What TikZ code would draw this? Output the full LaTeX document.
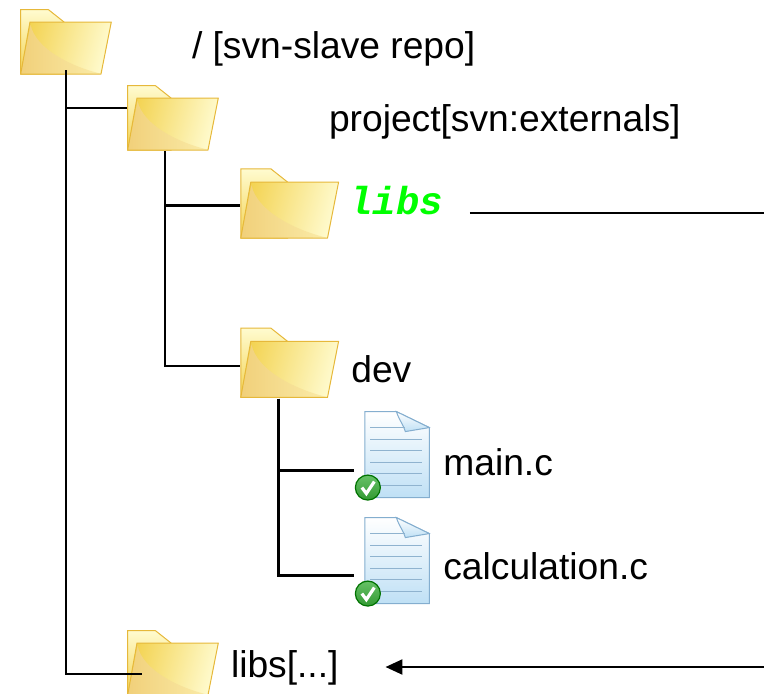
\documentclass[tikz,border=0pt]{standalone}
\usepackage{fontspec}
\setmainfont{Liberation Sans}
\setmonofont{Liberation Mono}
\usetikzlibrary{positioning}
\usetikzlibrary{arrows.meta}

\definecolor{folderedge}{HTML}{E6B83A}
\definecolor{foldergold}{HTML}{F3D352}
\definecolor{folderyellow}{HTML}{FBF084}
\definecolor{foldertop}{HTML}{FFFBCF}
\definecolor{foldertan}{HTML}{F1D07A}
\definecolor{folderpale}{HTML}{FAEBA8}
\definecolor{filedge}{HTML}{84AECF}
\definecolor{fileline}{HTML}{8FB3CF}
\definecolor{filesky}{HTML}{BFE0F5}
\definecolor{libgreen}{HTML}{00FF00}

\tikzset{
  folder/.style={inner sep=0pt, outer sep=0pt, minimum width=#1*92pt, minimum height=#1*66pt,
    path picture={
      \begin{scope}[x=#1pt, y=-#1pt]
        \pgftransformshift{\pgfpoint{-46pt*#1}{33pt*#1}}
        \shade[top color=foldertop, bottom color=foldergold, draw=folderedge, line width=1pt]
          (0.7,65) -- (0.7,0.7) -- (28.5,0.7) -- (44,13) -- (44,65) -- cycle;
        \shade[left color=foldergold, middle color=folderyellow, right color=foldertop, shading angle=75]
          (10,13) -- (91.3,13) -- (81,65) -- (0.7,65) -- cycle;
        \shade[left color=foldertan, right color=folderpale]
          (10.6,16) .. controls (16,40) and (50,57) .. (80,64.5) -- (0.7,65) -- cycle;
        \draw[folderedge, line width=1pt, line join=round]
          (10,13) -- (91.3,13) -- (81,65) -- (0.7,65) -- cycle;
      \end{scope}
    }},
  folder/.default=1,
  docfile/.style={inner sep=0pt, outer sep=0pt, minimum width=76pt, minimum height=91pt,
    path picture={
      \begin{scope}[x=1pt, y=-1pt]
        \pgftransformshift{\pgfpoint{-38pt}{45.5pt}}
        \shade[top color=white, bottom color=filesky, draw=filedge, line width=1pt]
          (10.5,1) -- (42,1) -- (75,17) -- (75,87) -- (10.5,87) -- cycle;
        \shade[top color=white, bottom color=filesky, draw=filedge, line width=1pt]
          (42,1) .. controls (45,10) and (49,14) .. (51,21) -- (75,17) -- cycle;
        \draw[fileline, line width=1.3pt] (16,17) -- (51,17);
        \foreach \ly in {29,40,52,63,75} {
          \draw[fileline, line width=1.3pt] (16,\ly) -- (68,\ly);
        }
        \shade[top color=green!60!black!60!white, bottom color=green!50!black!80!white, draw=green!45!black, line width=1.2pt]
          (13.5,77) circle[radius=12.5];
        \draw[white, line width=3.2pt] (7.5,77) -- (12,83) -- (20,71);
      \end{scope}
    }},
  lbl/.style={inner sep=0pt, outer sep=0pt, text height=27pt, text depth=8pt, font=\fontsize{37.2}{40}\selectfont},
  treeline/.style={draw=black, line width=2.4pt},
}

\begin{document}
\begin{tikzpicture}[x=1pt, y=-1pt]
        \useasboundingbox (0,0) rectangle (764,694);
        % Define nodes
        % folders
        \node[folder] at (66,42) (f_root) {}; %
        \node[folder, below right=10pt and 15pt of f_root] (f_project) {}; %
        \node[folder=1.08, below right=17pt and 21pt of f_project] (f_libs) {}; %
        \node[folder=1.08, below=88pt of f_libs] (f_dev) {}; %
        \node[folder, below right=555pt and 15pt of f_root] (f_libsdir) {}; %
        % files
        \node[docfile, below right=12pt and 15pt of f_dev] (f_main) {}; %
        \node[docfile, below=15pt of f_main] (f_calc) {}; %
        % labels
        \node[lbl, right=80pt of f_root, yshift=-6.5pt] (t_root) {/ [svn-slave repo]}; %
        \node[lbl, right=110pt of f_project, yshift=-3.5pt] (t_project) {project[svn:externals]}; %
        \node[lbl, right=10pt of f_libs, yshift=-1.5pt, font=\fontsize{39}{40}\selectfont\ttfamily\bfseries\itshape, text=libgreen] (t_libs) {libs}; %
        \node[lbl, right=12pt of f_dev, yshift=-10pt] (t_dev) {dev}; %
        \node[lbl, right=13pt of f_main, yshift=-10pt] (t_main) {main.c}; %
        \node[lbl, right=13pt of f_calc, yshift=-8pt] (t_calc) {calculation.c}; %
        \node[lbl, right=12pt of f_libsdir, yshift=-4.5pt] (t_libsdir) {libs[...]}; %
        % free ends at the page edge
        \coordinate (libs_out) at (764,213);
        \coordinate (libs_in) at (764,667);

        \draw[treeline] ([yshift=5pt]f_root.south) |- ([yshift=10pt]f_project.west);
        \draw[treeline] ([yshift=5pt]f_root.south) |- ([xshift=15pt,yshift=-11pt]f_libsdir.west);
        \draw[treeline] ([xshift=-8pt]f_project.south) |- ([yshift=-2pt]f_libs.west);
        \draw[treeline] ([xshift=-8pt]f_project.south) |- ([yshift=-3pt]f_dev.west);
        \draw[treeline] ([xshift=-11pt]f_dev.south) |- ([yshift=-14.5pt]f_main.west);
        \draw[treeline] ([xshift=-11pt]f_dev.south) |- ([yshift=-13.5pt]f_calc.west);
        \draw[treeline, shorten <=27pt] (t_libs.east |- libs_out) -- (libs_out);
        \draw[treeline, -{Triangle[length=17pt,width=15pt]}, shorten >=47pt] (libs_in) -- (t_libsdir.east |- libs_in);
    \end{tikzpicture}
\end{document}
